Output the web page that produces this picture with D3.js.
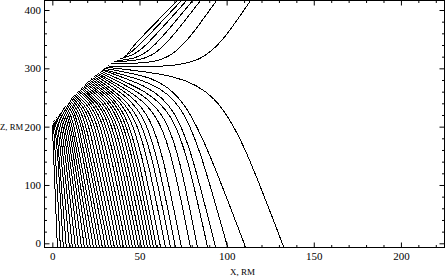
<!DOCTYPE html>
<html>
<head>
<meta charset="utf-8">
<script src="https://cdn.jsdelivr.net/npm/d3@7"></script>
<style>
html,body{margin:0;padding:0;background:#fff;}
svg{display:block;}
text{font-family:"Liberation Serif","Times New Roman",serif;fill:#000;}
</style>
</head>
<body>
<div id="chart"></div>
<script>
// field lines that come down to the equator: start on the boundary, bend, end at z ~ -7
const startX = [0, 0.5, 0.9, 1.4, 2.0, 2.5, 3.2, 3.7, 4.3, 4.9, 5.6, 6.2, 6.8, 7.5, 8.2, 8.9, 9.5, 10.1, 10.8, 11.5, 12.2, 12.9, 13.7, 14.4, 15.1, 15.8, 16.6, 17.2, 18.0, 18.7, 19.4, 20.1, 20.8, 21.6, 22.3, 23.1, 23.9, 24.7, 25.5, 26.3, 27.1, 27.9, 28.7, 29.3, 29.9, 30.6];
const startZ = [203, 206, 209, 212, 214, 217, 219, 222, 224, 226, 228, 231, 233, 235, 238, 240, 242, 245, 248, 250, 252, 254, 256, 259, 261, 263, 265, 267, 269, 272, 274, 276, 278, 280, 282, 284, 286, 288, 290, 291, 293, 295, 297, 298, 300, 302];
const bendX = [1.2, 1.8, 2.8, 2.8, 3.8, 4.8, 5.7, 6.7, 7.5, 8.4, 9.3, 10.1, 11.0, 11.8, 13.5, 14.4, 16.1, 17.0, 18.6, 20.3, 22.1, 23.8, 25.5, 27.2, 28.9, 30.5, 32.1, 33.9, 35.5, 37.2, 38.9, 40.6, 42.2, 43.9, 46.3, 49.3, 52.2, 54.9, 58.2, 63.5, 67.2, 70.9, 72.0, 75.4, 74.8, 96.2];
const bendZ = [117, 158, 168, 190, 191, 193, 198, 200, 203, 206, 209, 212, 214, 218, 217, 219, 218, 221, 221, 221, 221, 221, 222, 222, 223, 224, 226, 225, 227, 226, 228, 228, 230, 230, 230, 227, 226, 229, 231, 230, 235, 240, 252, 262, 277, 281];
const endX = [2.9, 4.6, 6.3, 8.0, 9.8, 11.5, 13.2, 14.9, 16.7, 18.4, 20.1, 21.8, 23.6, 25.3, 27.0, 28.7, 30.5, 32.2, 33.9, 35.6, 37.4, 39.1, 40.8, 42.5, 44.3, 46.0, 47.7, 49.4, 51.1, 52.9, 54.6, 56.3, 58.0, 59.8, 62.1, 64.9, 67.8, 70.7, 74.1, 79.3, 83.3, 89.1, 93.7, 100.6, 110.9, 132.8];
const floorZ = -7;

// open lines that leave through the top of the frame
const upStartX = [31.9, 33.6, 35.3, 37.1, 38.8, 40.5, 42.2];
const upStartZ = [304, 308, 311, 313, 316, 318, 320];
const upBendX = [87.5, 68.6, 58.9, 53.7, 50.3, 47.4, 45.7];
const upBendZ = [301, 309, 315, 319, 326, 331, 337];
const upEndX = [113.9, 94.4, 85.2, 80.7, 77.2, 74.3, 72.0];
const ceilZ = 417;

const xMajor = [0, 50, 100, 150, 200];
const zMajor = [0, 100, 200, 300, 400];

(function(){
  const W = 445, H = 277;
  const left = 44.5, right = 444.5, top = 0.5, bottom = 247.5;

  const svg = d3.select('#chart').append('svg').attr('width', W).attr('height', H);
  const x = d3.scaleLinear().domain([-4.5, 225]).range([left, right]);
  const y = d3.scaleLinear().domain([-7.2, 416.3]).range([bottom, top]);

  svg.append('clipPath').attr('id', 'plot')
    .append('rect').attr('x', left).attr('y', top).attr('width', right - left).attr('height', bottom - top);

  const lines = [];
  startX.forEach((sx, i) => lines.push({sx, sz: startZ[i], bx: bendX[i], bz: bendZ[i], ex: endX[i], ez: floorZ}));
  upStartX.forEach((sx, i) => lines.push({sx, sz: upStartZ[i], bx: upBendX[i], bz: upBendZ[i], ex: upEndX[i], ez: ceilZ}));

  const curve = d => {
    const p = d3.path();
    p.moveTo(x(d.sx), y(d.sz));
    p.bezierCurveTo(x(d.bx), y(d.bz), x(d.bx), y(d.bz), x(d.ex), y(d.ez));
    return p.toString();
  };

  svg.append('g').attr('clip-path', 'url(#plot)')
    .selectAll('path').data(lines).join('path')
    .attr('d', curve)
    .attr('fill', 'none')
    .attr('stroke', '#000')
    .attr('stroke-width', 1)
    .attr('shape-rendering', 'crispEdges');

  // frame ticks, all pointing inwards
  const minorX = d3.range(0, 221, 10).filter(v => v % 50);
  const minorZ = d3.range(0, 416, 20).filter(v => v % 100);

  const addAxis = (axis, tf, labels) => {
    const g = svg.append('g').attr('transform', tf).call(axis);
    g.select('.domain').remove();
    g.selectAll('line').attr('stroke', '#000');
    if (!labels) g.selectAll('text').remove();
    g.selectAll('text').attr('font-size', 11).attr('font-family', '"Liberation Serif", serif');
    return g;
  };

  addAxis(d3.axisBottom(x).tickValues(xMajor).tickSize(-5).tickPadding(5).tickFormat(d3.format('d')), `translate(0,${bottom})`, true);
  addAxis(d3.axisBottom(x).tickValues(minorX).tickSize(-2.5), `translate(0,${bottom})`, false);
  addAxis(d3.axisTop(x).tickValues(xMajor).tickSize(-5), `translate(0,${top})`, false);
  addAxis(d3.axisTop(x).tickValues(minorX).tickSize(-2.5), `translate(0,${top})`, false);
  addAxis(d3.axisLeft(y).tickValues(zMajor).tickSize(-5).tickPadding(3.5).tickFormat(d3.format('d')), `translate(${left},0)`, true);
  addAxis(d3.axisLeft(y).tickValues(minorZ).tickSize(-2.5), `translate(${left},0)`, false);
  addAxis(d3.axisRight(y).tickValues(zMajor).tickSize(-5), `translate(${right},0)`, false);
  addAxis(d3.axisRight(y).tickValues(minorZ).tickSize(-2.5), `translate(${right},0)`, false);

  svg.append('rect')
    .attr('x', left).attr('y', top).attr('width', right - left).attr('height', bottom - top)
    .attr('fill', 'none').attr('stroke', '#000').attr('stroke-width', 1);

  svg.append('text').attr('x', (left + right) / 2 - 2).attr('y', 275)
    .attr('text-anchor', 'middle').attr('font-size', 9).text('X, RM');
  svg.append('text').attr('x', 0).attr('y', 130)
    .attr('font-size', 8.7).text('Z, RM');
})();
</script>
</body>
</html>
